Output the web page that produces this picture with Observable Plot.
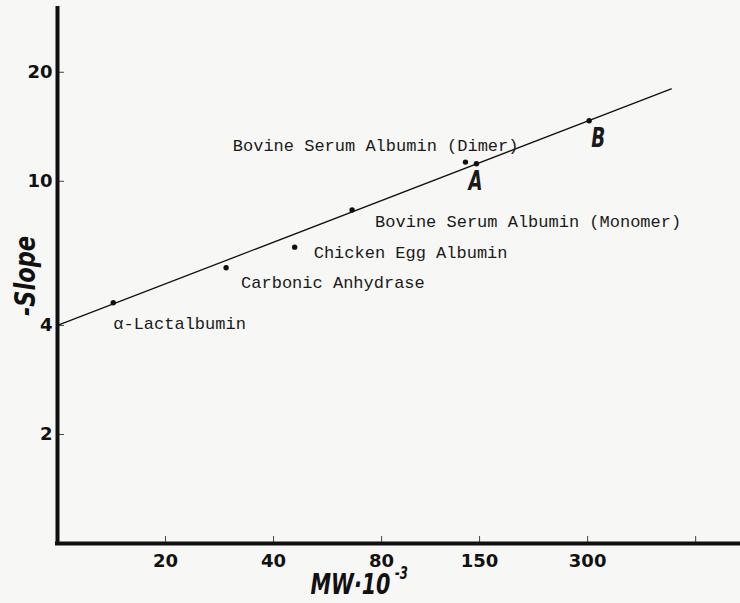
<!DOCTYPE html>
<html><head><meta charset="utf-8">
<script src="https://cdn.jsdelivr.net/npm/d3@7"></script>
<script src="https://cdn.jsdelivr.net/npm/@observablehq/plot@0.6"></script>
<style>
html,body{margin:0;padding:0;background:#f7f7f5;}
</style></head><body><div id="chart"></div>
<script>
// ---- data ----
const labels = ["α-Lactalbumin", "Carbonic Anhydrase", "Chicken Egg Albumin",
  "Bovine Serum Albumin (Monomer)", "Bovine Serum Albumin (Dimer)", "A", "B"];
const mw = [14.3, 29.5, 45.8, 66.2, 137, 147, 303];      // MW·10^-3
const slope = [4.62, 5.77, 6.58, 8.33, 11.3, 11.18, 14.7]; // -Slope
const fitMW = [10, 513];
const fitSlope = [4, 18];
const xTicks = [20, 40, 80, 150, 300, 600];
const xTickLabels = ["20", "40", "80", "150", "300", ""];
const yTicks = [2, 4, 10, 20];
const yTickLabels = ["2", "4", "10", "20"];
const yTitle = "-Slope";
const xTitle = "MW·10";
const xTitleExp = "-3";

// ---- layout / styling ----
const idx = labels.map((_, i) => i);
const labelLayout = [
  {dx: 0, dy: 21, anchor: "start", big: false},
  {dx: 15, dy: 15, anchor: "start", big: false},
  {dx: 19, dy: 5, anchor: "start", big: false},
  {dx: 23, dy: 11, anchor: "start", big: false},
  {dx: 53, dy: -17, anchor: "end", big: false},
  {dx: -1, dy: 18, anchor: "middle", big: true},
  {dx: 9, dy: 18, anchor: "middle", big: true}
];
const titleFont = "'Liberation Sans Narrow', 'DejaVu Sans Condensed', 'DejaVu Sans', sans-serif";
const monoFont = "'Liberation Mono', 'DejaVu Sans Mono', monospace";
const tickFont = "'DejaVu Sans', 'Liberation Sans', sans-serif";

const labelMarks = idx.map(i => {
  const L = labelLayout[i];
  return Plot.text([i], {
    x: j => mw[j], y: j => slope[j], text: j => labels[j],
    dx: L.dx, dy: L.dy, textAnchor: L.anchor, lineAnchor: "middle",
    fontFamily: L.big ? titleFont : monoFont,
    fontSize: L.big ? 27 : 17,
    fontWeight: L.big ? "bold" : "normal",
    fontStyle: L.big ? "italic" : "normal",
    fill: "#1a1a1a",
    className: L.big ? "letter" : "lbl"
  });
});

const chart = Plot.plot({
  width: 740, height: 603,
  marginLeft: 57, marginRight: 0, marginTop: 8, marginBottom: 60,
  style: {background: "#f7f7f5", color: "#111"},
  x: {type: "log", domain: [10, 800], axis: null},
  y: {type: "log", domain: [1, 30], axis: null},
  marks: [
    // tick labels (drawn as text so that every listed label is kept)
    Plot.text(xTicks, {x: d => d, text: (d, i) => xTickLabels[i], frameAnchor: "bottom", dy: 18,
      textAnchor: "middle", lineAnchor: "middle",
      fontSize: 18, fontWeight: "bold", fontFamily: tickFont, fill: "#111"}),
    Plot.text(yTicks, {y: d => d, text: (d, i) => yTickLabels[i], frameAnchor: "left", dx: -5,
      textAnchor: "end", lineAnchor: "middle",
      fontSize: 18, fontWeight: "bold", fontFamily: tickFont, fill: "#111"}),
    Plot.tickX(xTicks, {x: d => d, insetTop: 528, stroke: "#444", strokeWidth: 1}),
    Plot.tickY(yTicks, {y: d => d, insetRight: 676, stroke: "#444", strokeWidth: 1}),
    Plot.line(fitMW.map((m, i) => [m, fitSlope[i]]), {x: d => d[0], y: d => d[1], stroke: "#111", strokeWidth: 1.3}),
    Plot.ruleX([10], {strokeWidth: 4, stroke: "#111", strokeLinecap: "square"}),
    Plot.ruleY([1], {strokeWidth: 4, stroke: "#111", strokeLinecap: "square"}),
    Plot.dot(idx, {x: i => mw[i], y: i => slope[i], r: 2.7, fill: "#111", stroke: "none"}),
    ...labelMarks,
    Plot.text([yTitle], {frameAnchor: "left", dx: -32, dy: 0, rotate: -90, textAnchor: "middle", lineAnchor: "middle",
      fontSize: 29, fontWeight: "bold", fontStyle: "italic", fontFamily: titleFont, fill: "#111", className: "ytitle"}),
    Plot.text([xTitle], {frameAnchor: "bottom", dx: -48.5, dy: 42, textAnchor: "middle", lineAnchor: "middle",
      fontSize: 28, fontWeight: "bold", fontStyle: "italic", fontFamily: titleFont, fill: "#111", className: "xtitle"}),
    Plot.text([xTitleExp], {frameAnchor: "bottom", dx: -4, dy: 30, textAnchor: "start", lineAnchor: "middle",
      fontSize: 17, fontWeight: "bold", fontStyle: "italic", fontFamily: titleFont, fill: "#111", className: "xexp"})
  ]
});
// condense the bold italic titles to the narrow typeface of the original
const condense = (sel, len) => d3.select(chart).selectAll(sel).attr("textLength", len).attr("lengthAdjust", "spacingAndGlyphs");
condense(".ytitle text", 80);
condense(".xtitle text", 80);
condense(".xexp text", 13);
condense(".letter text", 14);
document.getElementById("chart").appendChild(chart);
</script>
</body></html>
